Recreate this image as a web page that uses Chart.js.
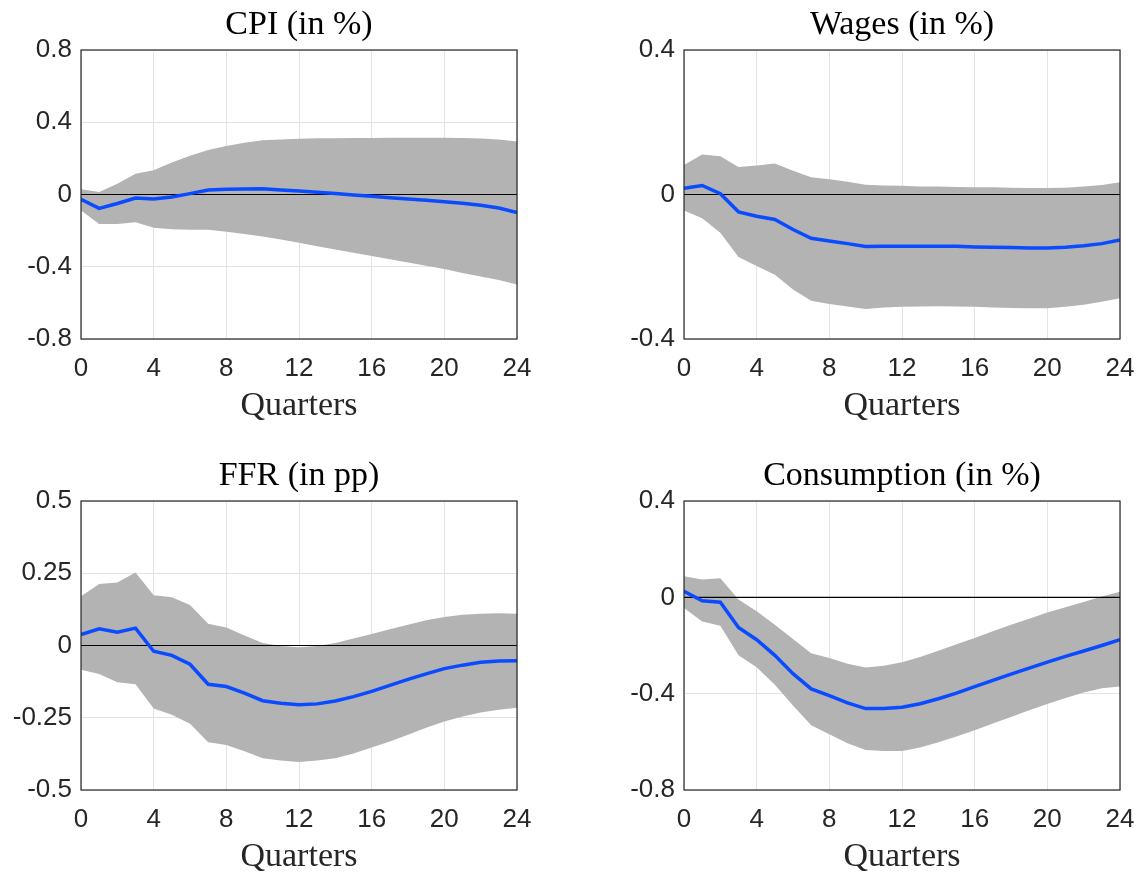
<!DOCTYPE html>
<html>
<head>
<meta charset="utf-8">
<script src="https://cdn.jsdelivr.net/npm/chart.js@4"></script>
<style>
  html, body { margin: 0; padding: 0; background: #fff; }
  #wrap { position: relative; width: 1142px; height: 873px; overflow: hidden; }
  canvas { position: absolute; }
</style>
</head>
<body>
<div id="wrap">
  <canvas id="c0" width="571" height="436" style="left:0;top:0"></canvas>
  <canvas id="c1" width="600" height="436" style="left:571px;top:0"></canvas>
  <canvas id="c2" width="571" height="436" style="left:0;top:451px"></canvas>
  <canvas id="c3" width="600" height="436" style="left:571px;top:451px"></canvas>
</div>
<script>
// Impulse responses, quarters 0..24
const QUARTERS = [0,1,2,3,4,5,6,7,8,9,10,11,12,13,14,15,16,17,18,19,20,21,22,23,24];
const X_TICKS = [0, 4, 8, 12, 16, 20, 24];

const CPI_MEDIAN = [-0.027,-0.077,-0.05,-0.02,-0.025,-0.014,0.005,0.025,0.029,0.03,0.032,0.025,0.019,0.012,0.005,-0.003,-0.01,-0.018,-0.025,-0.032,-0.04,-0.049,-0.06,-0.075,-0.1];
const CPI_UPPER  = [0.029,0.014,0.06,0.115,0.134,0.177,0.214,0.247,0.269,0.287,0.3,0.304,0.308,0.311,0.312,0.313,0.313,0.314,0.314,0.314,0.314,0.313,0.31,0.304,0.293];
const CPI_LOWER  = [-0.088,-0.164,-0.164,-0.153,-0.184,-0.193,-0.195,-0.195,-0.206,-0.219,-0.232,-0.249,-0.267,-0.286,-0.304,-0.323,-0.341,-0.358,-0.376,-0.395,-0.413,-0.434,-0.454,-0.474,-0.498];
const CPI_TICKS  = [-0.8, -0.4, 0, 0.4, 0.8];

const WAGE_MEDIAN = [0.017,0.025,0.002,-0.048,-0.06,-0.069,-0.097,-0.121,-0.129,-0.136,-0.144,-0.143,-0.143,-0.143,-0.143,-0.143,-0.145,-0.146,-0.147,-0.148,-0.148,-0.146,-0.142,-0.136,-0.126];
const WAGE_UPPER  = [0.082,0.111,0.106,0.076,0.08,0.086,0.066,0.048,0.042,0.035,0.027,0.025,0.024,0.022,0.022,0.021,0.02,0.02,0.019,0.018,0.018,0.019,0.022,0.026,0.034];
const WAGE_LOWER  = [-0.044,-0.066,-0.106,-0.173,-0.198,-0.222,-0.263,-0.294,-0.303,-0.31,-0.317,-0.313,-0.311,-0.31,-0.309,-0.31,-0.311,-0.313,-0.314,-0.315,-0.315,-0.311,-0.305,-0.297,-0.287];
const WAGE_TICKS  = [-0.4, 0, 0.4];

const FFR_MEDIAN = [0.038,0.058,0.046,0.06,-0.02,-0.034,-0.065,-0.134,-0.142,-0.165,-0.191,-0.2,-0.205,-0.202,-0.192,-0.177,-0.159,-0.138,-0.117,-0.098,-0.08,-0.068,-0.058,-0.054,-0.053];
const FFR_UPPER  = [0.17,0.213,0.218,0.253,0.174,0.167,0.14,0.075,0.062,0.035,0.009,-0.002,-0.006,-0.002,0.009,0.024,0.04,0.056,0.072,0.087,0.099,0.106,0.11,0.112,0.11];
const FFR_LOWER  = [-0.084,-0.099,-0.127,-0.134,-0.218,-0.24,-0.271,-0.335,-0.344,-0.366,-0.39,-0.398,-0.403,-0.398,-0.39,-0.374,-0.353,-0.332,-0.309,-0.285,-0.263,-0.246,-0.232,-0.222,-0.215];
const FFR_TICKS  = [-0.5, -0.25, 0, 0.25, 0.5];

const CONS_MEDIAN = [0.025,-0.014,-0.02,-0.125,-0.176,-0.241,-0.317,-0.38,-0.408,-0.438,-0.462,-0.462,-0.456,-0.442,-0.421,-0.398,-0.371,-0.345,-0.319,-0.294,-0.269,-0.245,-0.223,-0.2,-0.176];
const CONS_UPPER  = [0.088,0.074,0.079,-0.009,-0.058,-0.114,-0.173,-0.232,-0.252,-0.276,-0.291,-0.284,-0.27,-0.248,-0.222,-0.195,-0.169,-0.141,-0.114,-0.089,-0.063,-0.041,-0.019,0.003,0.023];
const CONS_LOWER  = [-0.044,-0.1,-0.118,-0.241,-0.29,-0.363,-0.449,-0.531,-0.569,-0.606,-0.634,-0.638,-0.638,-0.624,-0.602,-0.578,-0.552,-0.524,-0.497,-0.469,-0.443,-0.418,-0.395,-0.377,-0.37];
const CONS_TICKS  = [-0.8, -0.4, 0, 0.4];

const PANELS = [
  { id: "c0", title: "CPI (in %)", median: CPI_MEDIAN, upper: CPI_UPPER, lower: CPI_LOWER, yTicks: CPI_TICKS, left: 81, right: 54 },
  { id: "c1", title: "Wages (in %)", median: WAGE_MEDIAN, upper: WAGE_UPPER, lower: WAGE_LOWER, yTicks: WAGE_TICKS, left: 113, right: 51 },
  { id: "c2", title: "FFR (in pp)", median: FFR_MEDIAN, upper: FFR_UPPER, lower: FFR_LOWER, yTicks: FFR_TICKS, left: 81, right: 54 },
  { id: "c3", title: "Consumption (in %)", median: CONS_MEDIAN, upper: CONS_UPPER, lower: CONS_LOWER, yTicks: CONS_TICKS, left: 113, right: 51 },
];

const BAND = "#b3b3b3";
const BLUE = "#0a4bff";
const AXIS = "#262626";
const GRID = "#e3e3e3";
const SERIF = "'Liberation Serif', 'DejaVu Serif', serif";
const SANS = "'Liberation Sans', Arial, sans-serif";

const pts = arr => arr.map((v, i) => ({ x: QUARTERS[i], y: v }));

// titles, x label and the box around the axes
const decor = {
  id: "decor",
  afterDatasetsDraw(chart, args, opts) {
    const { ctx, chartArea: a } = chart;
    ctx.save();
    ctx.strokeStyle = AXIS;
    ctx.lineWidth = 1.2;
    ctx.strokeRect(a.left, a.top, a.right - a.left, a.bottom - a.top);
    ctx.fillStyle = "#000";
    ctx.textAlign = "center";
    ctx.textBaseline = "alphabetic";
    ctx.font = "34px " + SERIF;
    ctx.fillText(opts.title, (a.left + a.right) / 2, a.top - 16);
    ctx.fillStyle = "#262626";
    ctx.fillText("Quarters", (a.left + a.right) / 2, a.bottom + 76);
    ctx.restore();
  }
};

for (const p of PANELS) {
  const yMin = p.yTicks[0], yMax = p.yTicks[p.yTicks.length - 1];
  new Chart(document.getElementById(p.id), {
    type: "line",
    data: {
      datasets: [
        { data: pts(p.median), borderColor: BLUE, borderWidth: 3.5, pointRadius: 0, fill: false, tension: 0, order: 0 },
        { data: [{ x: 0, y: 0 }, { x: 24, y: 0 }], borderColor: "#000", borderWidth: 1.2, pointRadius: 0, fill: false, order: 1 },
        { data: pts(p.upper), borderWidth: 0, pointRadius: 0, fill: "+1", backgroundColor: BAND, tension: 0, order: 2 },
        { data: pts(p.lower), borderWidth: 0, pointRadius: 0, fill: false, tension: 0, order: 3 },
      ]
    },
    options: {
      responsive: false,
      animation: false,
      devicePixelRatio: 1,
      layout: { padding: { top: 50, left: 0, right: p.right, bottom: 0 } },
      plugins: { legend: { display: false }, tooltip: { enabled: false }, decor: { title: p.title } },
      scales: {
        x: {
          type: "linear", min: 0, max: 24,
          afterBuildTicks: s => { s.ticks = X_TICKS.map(v => ({ value: v })); },
          afterFit: s => { s.height = 97; },
          grid: { color: GRID, drawTicks: false },
          border: { display: false },
          ticks: { color: AXIS, padding: 14, font: { family: SANS, size: 26 }, maxRotation: 0, callback: v => String(v) }
        },
        y: {
          type: "linear", min: yMin, max: yMax,
          afterBuildTicks: s => { s.ticks = p.yTicks.map(v => ({ value: v })); },
          afterFit: s => { s.width = p.left; },
          grid: { color: GRID, drawTicks: false },
          border: { display: false },
          ticks: { color: AXIS, padding: 9, font: { family: SANS, size: 26 }, callback: v => String(v) }
        }
      }
    },
    plugins: [decor]
  });
}
</script>
</body>
</html>
